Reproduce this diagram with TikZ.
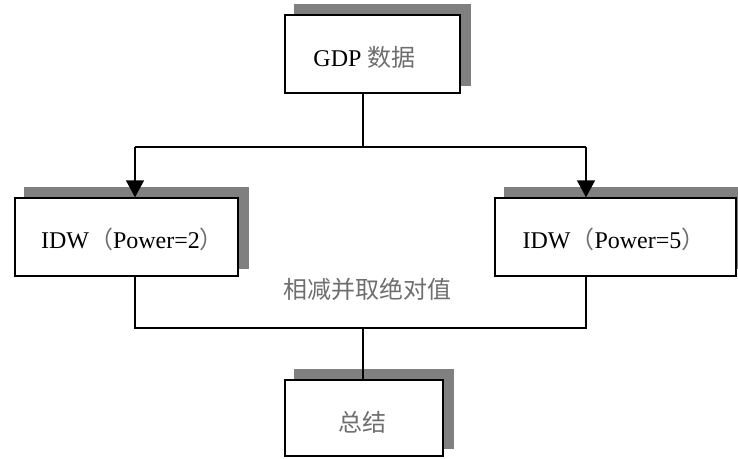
\documentclass[tikz,border=0pt]{standalone}
\usepackage{fontspec}
\setmainfont{Liberation Serif}
\newfontfamily\cjk{Noto Sans CJK SC}
\usetikzlibrary{arrows.meta,backgrounds}
\definecolor{shadowgray}{HTML}{808080}
\definecolor{cjkgray}{HTML}{6E6E6E}
\newcommand{\zh}[1]{{\cjk\color{cjkgray}#1}}
\tikzset{
  boxnode/.style={draw=black, line width=1.4pt, fill=white, inner sep=0pt},
  txt/.style={inner sep=0pt, font=\fontsize{24}{28}\selectfont},
  conn/.style={line width=1.4pt, black},
  arr/.style={conn, -{Triangle[width=18pt,length=17pt]}},
  shadowfill/.style={fill=shadowgray}
}
\begin{document}
\begin{tikzpicture}[x=1pt,y=-1pt]
\useasboundingbox (0,0) rectangle (738,458);
\node[boxnode, minimum width=175pt, minimum height=78pt] (top) at (372.5,54) {};
\node[boxnode, minimum width=223pt, minimum height=78pt] (left) at (126.5,237) {};
\node[boxnode, minimum width=241pt, minimum height=78pt] (right) at (615.5,237) {};
\node[boxnode, minimum width=158pt, minimum height=76pt] (bottom) at (364,418) {};
\node[txt] (toptext) at (364.5,57) {GDP \zh{数据}};
\node[txt] (lefttext) at (132.5,239) {IDW\zh{（}Power=2\zh{）}};
\node[txt] (righttext) at (614,239) {IDW\zh{（}Power=5\zh{）}};
\node[txt] (bottomtext) at (362,422) {\zh{总结}};
\node[txt] (lab) at (367,289) {\zh{相减并取绝对值}};
\begin{scope}[on background layer]
  \foreach \n in {top,left,right,bottom}
    \fill[shadowfill] ([xshift=10pt,yshift=8pt]\n.south west) rectangle ([xshift=10pt,yshift=10pt]\n.north east);
\end{scope}
\coordinate (j1) at (363,147);
\coordinate (jl) at (135,147);
\coordinate (jr) at (586,147);
\coordinate (b1) at (363,328);
\coordinate (bl) at (135,328);
\coordinate (br) at (586,328);
\draw[conn] (top.south -| j1) -- (j1);
\draw[conn] (jl) -- (jr);
\draw[arr] (jl) -- (jl |- left.north);
\draw[arr] (jr) -- (jr |- right.north);
\draw[conn] (left.south -| bl) -- (bl) -- (br) -- (right.south -| br);
\draw[conn] (b1) -- (bottom.north -| b1);
\end{tikzpicture}
\end{document}
